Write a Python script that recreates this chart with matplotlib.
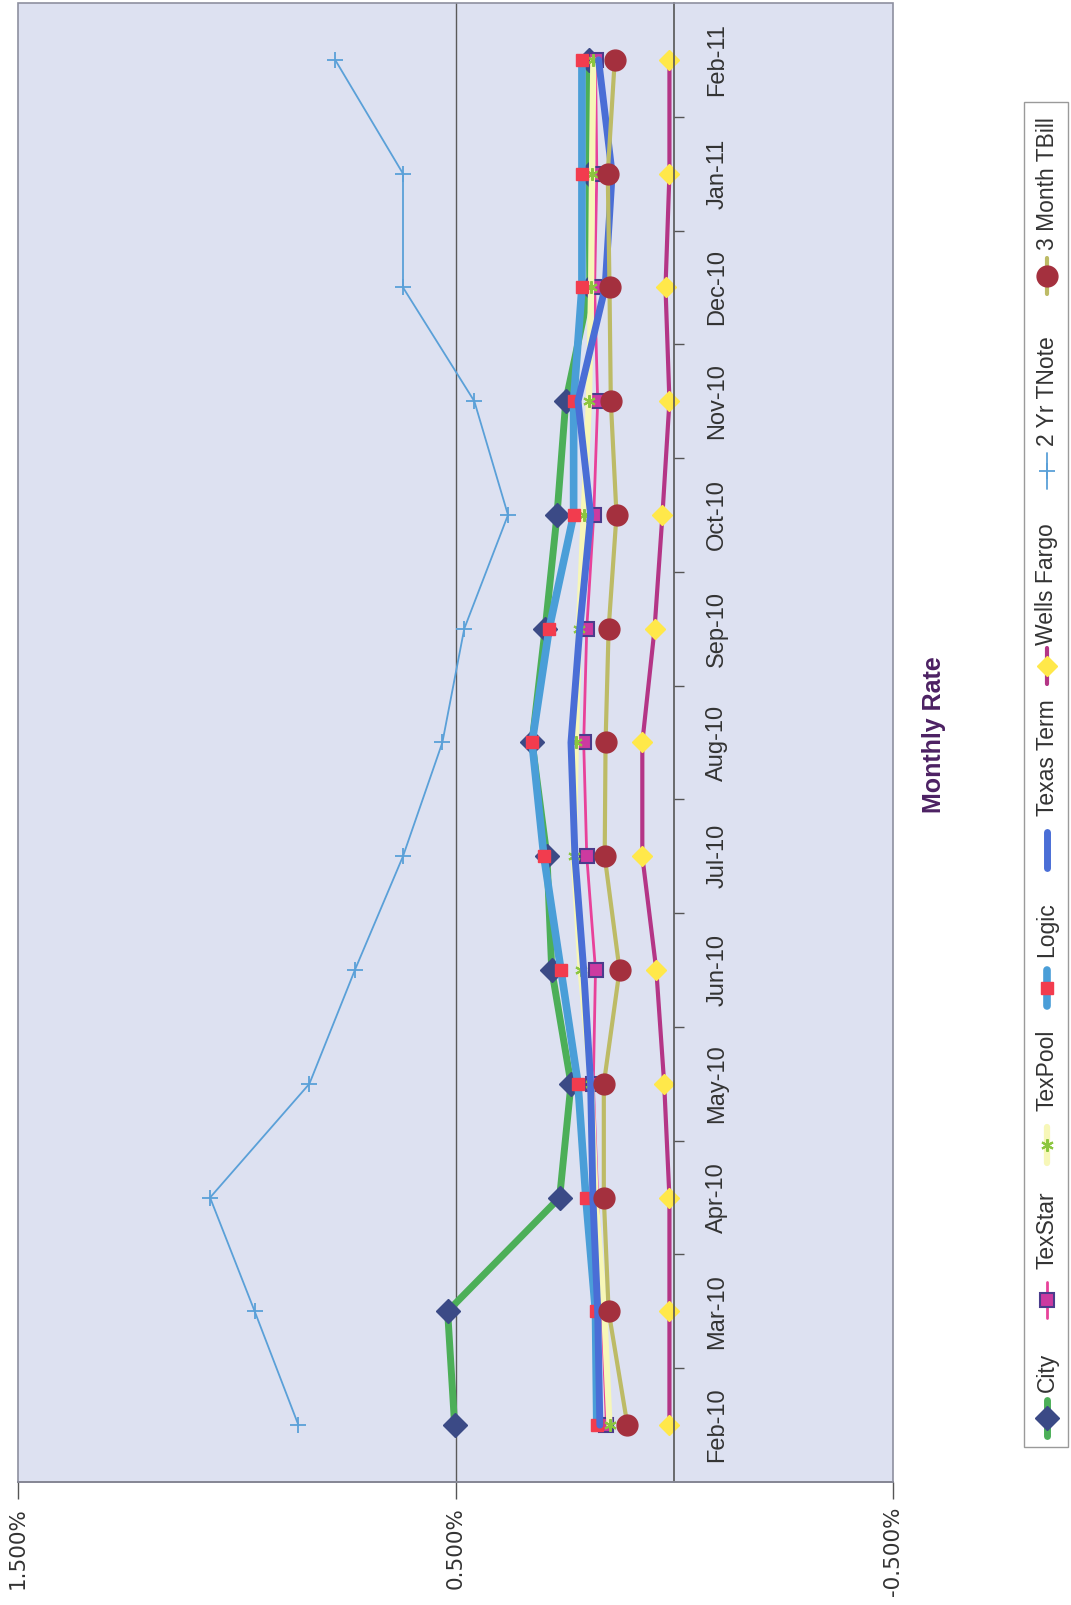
import numpy as np
import matplotlib
matplotlib.use('Agg')
import matplotlib.pyplot as plt
from matplotlib.patches import Rectangle
from matplotlib.ticker import FixedLocator

# chart data (monthly rate, in percent)
months = ['Feb-10', 'Mar-10', 'Apr-10', 'May-10', 'Jun-10', 'Jul-10', 'Aug-10',
          'Sep-10', 'Oct-10', 'Nov-10', 'Dec-10', 'Jan-11', 'Feb-11']
city = [0.502, 0.518, 0.262, 0.236, 0.280, 0.291, 0.325, 0.295, 0.268, 0.248, 0.193, 0.195, 0.195]
texstar = [0.155, 0.165, 0.175, 0.185, 0.180, 0.200, 0.207, 0.200, 0.184, 0.175, 0.182, 0.177, 0.180]
texpool = [0.148, 0.160, 0.180, 0.190, 0.214, 0.230, 0.225, 0.218, 0.207, 0.195, 0.190, 0.188, 0.185]
logic = [0.177, 0.180, 0.202, 0.220, 0.259, 0.298, 0.325, 0.286, 0.230, 0.230, 0.211, 0.211, 0.211]
texas_term = [0.170, 0.175, 0.186, 0.191, 0.207, 0.227, 0.236, 0.216, 0.191, 0.220, 0.158, 0.142, 0.173]
wells_fargo = [0.011, 0.011, 0.011, 0.023, 0.041, 0.073, 0.073, 0.045, 0.027, 0.011, 0.020, 0.011, 0.011]
tnote_2yr = [0.859, 0.959, 1.061, 0.834, 0.730, 0.620, 0.530, 0.480, 0.380, 0.457, 0.620, 0.620, 0.775]
tbill_3m = [0.107, 0.150, 0.161, 0.161, 0.125, 0.159, 0.157, 0.150, 0.132, 0.145, 0.148, 0.152, 0.136]

value_ticks = [1.5, 0.5, -0.5]
value_labels = ['1.500%', '0.500%', '-0.500%']

# line / marker styles per series (drawn in this order)
series = [
    ('City', city, dict(color='#4caf58', lw=5, marker='D', ms=12, mfc='#3b4a86', mec='#3b4a86')),
    ('TexStar', texstar, dict(color='#e8429a', lw=2, marker='s', ms=10, mfc='#cc3aa0', mec='#4b3c8c', mew=1.5)),
    ('TexPool', texpool, dict(color='#f7f7b8', lw=4.5, marker=(6, 2, 0), ms=9, mfc='#8cc63f', mec='#8cc63f', mew=1.5)),
    ('Logic', logic, dict(color='#4a9ed8', lw=5.5, marker='s', ms=9, mfc='#f23c4e', mec='#f23c4e')),
    ('Texas Term', texas_term, dict(color='#4a6ed6', lw=5, marker='None')),
    ('Wells Fargo', wells_fargo, dict(color='#b43586', lw=3, marker='D', ms=10, mfc='#ffe84a', mec='#ffe84a')),
    ('2 Yr TNote', tnote_2yr, dict(color='#5aa0d8', lw=1.3, marker='+', ms=11, mew=1.3)),
    ('3 Month TBill', tbill_3m, dict(color='#bdbb66', lw=3, marker='o', ms=15, mfc='#a4303e', mec='#a4303e')),
]

W, H = 1071, 1605
fig = plt.figure(figsize=(W / 100, H / 100), dpi=100)
fig.patch.set_facecolor('white')

# chart is laid out rotated: values run horizontally, months run bottom to top
ax = fig.add_axes([18 / W, 1 - 1482 / H, (893 - 18) / W, (1482 - 3) / H])
ax.set_facecolor('#dde1f1')

y = np.arange(len(months))
for name, vals, style in series:
    ax.plot(vals, y, solid_joinstyle='round', solid_capstyle='round', **style)

ax.set_xlim(1.5, -0.5)
ax.set_ylim(-0.5, len(months) - 0.5)

ax.axvline(0.5, color='#5a5a5a', lw=1, zorder=0.5)

# value axis at the bottom
ax.set_xticks(value_ticks)
ax.set_xticklabels(value_labels, rotation=90, va='top', ha='center',
                   fontsize=15.5, family='DejaVu Sans', color='#333333')
ax.tick_params(axis='x', length=12, width=1, color='#555555', pad=6)

# category axis crossing at zero
for s in ['left', 'top']:
    ax.spines[s].set_visible(False)
ax.spines['bottom'].set_color('#555555')
ax.spines['bottom'].set_linewidth(1.3)
ax.spines['right'].set_position(('data', 0))
ax.spines['right'].set_color('#555555')
ax.spines['right'].set_linewidth(1.2)
ax.yaxis.tick_right()
ax.set_yticks(y)
ax.set_yticklabels(months, rotation=90, va='center', ha='left',
                   fontsize=17, family='Liberation Sans', color='#333333')
ax.yaxis.set_minor_locator(FixedLocator(np.arange(0.5, len(months) - 1, 1)))
ax.tick_params(axis='y', which='major', length=0, pad=23)
ax.tick_params(axis='y', which='minor', length=7, width=1, color='#555555', direction='out')

ax.add_patch(Rectangle((0, 0), 1, 1, transform=ax.transAxes, fill=False,
                       ec='#8e90a0', lw=1.2, zorder=5, clip_on=False))

fig.text(934 / W, 1 - 735 / H, 'Monthly Rate', rotation=90, ha='center', va='center',
         fontsize=18, fontweight='bold', family='Liberation Sans', color='#4c2163')

# legend, drawn rotated like the rest of the page
leg = fig.add_axes([0, 0, 1, 1])
leg.set_xlim(0, W)
leg.set_ylim(H, 0)
leg.axis('off')
leg.patch.set_alpha(0)
leg.add_patch(Rectangle((1024, 102), 44, 1345, fill=False, ec='#9a9a9a', lw=1))

mark_y = [1418, 1300, 1145, 988, 850, 666, 471, 276]
text_y = [1372, 1230, 1070, 930, 758, 584, 391, 184]
for (name, vals, style), my, ty in zip(series, mark_y, text_y):
    line_style = {k: v for k, v in style.items() if k in ('color', 'lw')}
    mark_style = {k: v for k, v in style.items() if k not in ('color', 'lw')}
    leg.plot([1047, 1047], [my - 18, my + 18], solid_capstyle='round', **line_style)
    leg.plot([1047], [my], color=style['color'], **mark_style)
    leg.text(1047, ty, name, rotation=90, ha='center', va='center',
             fontsize=16.5, family='Liberation Sans', color='#333333')

fig.savefig('out.png', dpi=100)
